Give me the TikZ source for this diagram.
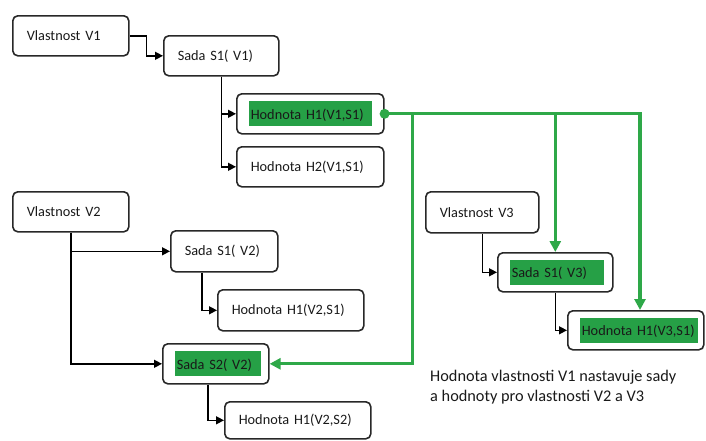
\documentclass[tikz,border=0pt]{standalone}
\usepackage{fontspec}
\setmainfont{Carlito}
\usetikzlibrary{arrows.meta,calc}
\definecolor{gl}{RGB}{46,168,72}
\definecolor{hlg}{RGB}{38,160,70}
\definecolor{bd}{RGB}{40,40,40}
\definecolor{tx}{RGB}{25,25,25}
\newcommand{\hlx}[2]{{\fboxsep=0pt\kern-2pt\colorbox{hlg}{\rule[-7pt]{0pt}{25pt}\kern2pt#2\kern#1pt}}}
\begin{document}
\begin{tikzpicture}[x=1pt,y=-1pt,
 box/.style={draw=bd, line width=1.6pt, rounded corners=5pt, anchor=north west, inner xsep=14pt, inner ysep=0pt, align=left, font=\fontsize{14.3}{17}\selectfont, text=tx},
 conn/.style={line width=1.4pt, draw=black, -{Triangle[length=8pt,width=8pt]}},
 gconn/.style={line width=3.2pt, draw=gl, -{Triangle[length=11pt,width=11pt]}}]
\useasboundingbox (0,0) rectangle (706,440);
\node[box, text width=88pt, minimum height=40pt] (V1) at (12,15) {Vlastnost V1};
\node[box, text width=87pt, minimum height=40pt] (S1V1) at (163,35) {Sada S1( V1)};
\node[box, text width=119pt, minimum height=40pt] (H1V1) at (236,93) {\hlx{8}{Hodnota H1(V1,S1)}};
\node[box, text width=119pt, minimum height=40pt] (H2V1) at (236,146) {Hodnota H2(V1,S1)};
\node[box, text width=88pt, minimum height=40pt] (V2) at (12,191) {Vlastnost V2};
\node[box, text width=79pt, minimum height=41pt] (S1V2) at (170,230) {Sada S1( V2)};
\node[box, text width=118pt, minimum height=41pt] (H1V2S1) at (217,289) {Hodnota H1(V2,S1)};
\node[box, text width=78pt, minimum height=40pt] (S2V2) at (162,343) {\hlx{9}{Sada S2( V2)}};
\node[box, text width=118pt, minimum height=37pt] (H1V2S2) at (224,401) {Hodnota H1(V2,S2)};
\node[box, text width=85pt, minimum height=41pt] (V3) at (425,191) {Vlastnost V3};
\node[box, text width=87pt, minimum height=39pt] (S1V3) at (497,252) {\hlx{17}{Sada S1( V3)}};
\node[box, text width=108pt, minimum height=39pt] (H1V3S1) at (567,310) {\hlx{3}{Hodnota H1(V3,S1)}};
\node[anchor=west, font=\fontsize{16.3}{20}\selectfont, text=tx, align=left, inner sep=0pt] (cap) at (430,387) {Hodnota vlastnosti V1 nastavuje sady\\a hodnoty pro vlastnosti V2 a V3};
% black connectors
\draw[conn] (V1.east) -- ++(17,0) |- (S1V1.west);
\draw[conn] (S1V1.south) |- (H1V1.west);
\draw[conn] (S1V1.south) |- (H2V1.west);
\draw[conn] (V2.south) |- (S1V2.west);
\draw[conn] (V2.south) |- (S2V2.west);
\draw[conn] ($(S1V2.south west)+(32,0)$) |- (H1V2S1.west);
\draw[conn] ($(S2V2.south west)+(46,0)$) |- (H1V2S2.west);
\draw[conn] (V3.south) |- (S1V3.west);
\draw[conn] (S1V3.south) |- (H1V3S1.west);
% green connectors
\draw[gconn] (H1V1.east) -| ($(H1V3S1.north west)+(73,0)$);
\draw[gconn] (H1V1.east) -| (S1V3.north);
\draw[gconn] (H1V1.east) -- ++(28,0) |- (S2V2.east);
\fill[gl] (H1V1.east) circle (5pt);
\end{tikzpicture}
\end{document}
